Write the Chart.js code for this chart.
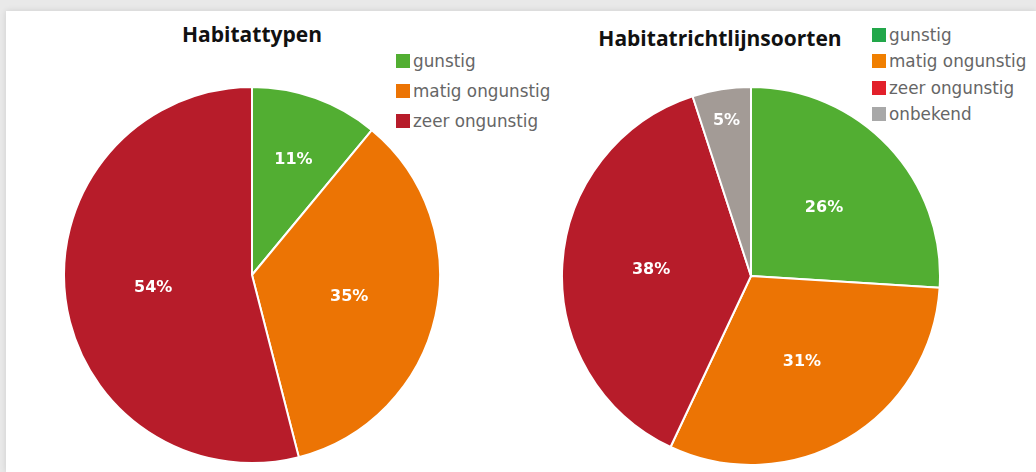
<!DOCTYPE html>
<html>
<head>
<meta charset="utf-8">
<script src="https://cdn.jsdelivr.net/npm/chart.js@4.4.1/dist/chart.umd.min.js"></script>
<style>
    html, body { margin: 0; padding: 0; }
    body { width: 1036px; height: 472px; background: #e9e9e9; position: relative; overflow: hidden; }
    .panel { position: absolute; left: 6px; top: 11px; right: 0; bottom: 0; background: #fff; box-shadow: 0 0 6px rgba(0,0,0,0.12); }
    .pie-box { position: absolute; }
    .title { position: absolute; font-family: "Open Sans", sans-serif; font-weight: 700; font-size: 21px; color: #111; white-space: nowrap; transform: translateX(-50%); }
    .legend { position: absolute; font-family: "DejaVu Sans", Verdana, sans-serif; font-size: 16.8px; color: #666; }
    .legend .row { display: flex; align-items: center; white-space: nowrap; }
    .legend .sw { width: 14px; height: 14px; margin-right: 3px; }
</style>
</head>
<body>
<div class="panel"></div>

<div class="title" id="title1" style="left: 252px; top: 20px;"></div>
<div class="title" id="title2" style="left: 720px; top: 24px;"></div>

<div class="legend" id="legend1" style="left: 396px; top: 46px;"></div>
<div class="legend" id="legend2" style="left: 872px; top: 22px;"></div>

<div class="pie-box" style="left: 63px; top: 86px; width: 378px; height: 378px;"><canvas id="pie1"></canvas></div>
<div class="pie-box" style="left: 561px; top: 86px; width: 380px; height: 380px;"><canvas id="pie2"></canvas></div>

<script>
// --- data ---
const title1 = 'Habitattypen';
const labels1 = ['gunstig', 'matig ongunstig', 'zeer ongunstig'];
const values1 = [11, 35, 54];

const title2 = 'Habitatrichtlijnsoorten';
const labels2 = ['gunstig', 'matig ongunstig', 'zeer ongunstig', 'onbekend'];
const values2 = [26, 31, 38, 5];

// slice colours (both pies use the same palette)
const sliceColors = ['#52ae32', '#ec7404', '#b71c2a', '#a39b96'];
// the legends use slightly different swatches
const legendColors1 = ['#52ae32', '#ec7404', '#b71c2a'];
const legendColors2 = ['#22a74a', '#f07f00', '#e2202a', '#a8a8a8'];

// percentage labels inside the slices
const percentLabels = {
    id: 'percentLabels',
    afterDatasetsDraw(chart) {
        const ctx = chart.ctx;
        const data = chart.data.datasets[0].data;
        const total = data.reduce((a, b) => a + b, 0);
        const meta = chart.getDatasetMeta(0);
        ctx.save();
        ctx.font = 'bold 16px "DejaVu Sans", Verdana, sans-serif';
        ctx.fillStyle = '#ffffff';
        ctx.textAlign = 'center';
        ctx.textBaseline = 'middle';
        meta.data.forEach(function(arc, i) {
            const p = arc.getProps(['x', 'y', 'startAngle', 'endAngle', 'outerRadius']);
            const share = data[i] / total;
            // narrow slices push their label further out
            let frac = 0.53;
            if (share < 0.08) frac = 0.83;
            else if (share < 0.15) frac = 0.65;
            const mid = (p.startAngle + p.endAngle) / 2;
            const r = p.outerRadius * frac;
            ctx.fillText(Math.round(share * 100) + '%', p.x + Math.cos(mid) * r, p.y + Math.sin(mid) * r);
        });
        ctx.restore();
    }
};

function makePie(id, labels, values) {
    return new Chart(document.getElementById(id), {
        type: 'pie',
        data: {
            labels: labels,
            datasets: [{
                data: values,
                backgroundColor: sliceColors.slice(0, values.length),
                borderColor: '#ffffff',
                borderWidth: 2,
                hoverOffset: 0,
                offset: 0
            }]
        },
        options: {
            responsive: true,
            maintainAspectRatio: false,
            animation: false,
            events: [],
            layout: { padding: 0 },
            plugins: {
                legend: { display: false },
                tooltip: { enabled: false }
            }
        },
        plugins: [percentLabels]
    });
}

function makeLegend(id, labels, colors, rowHeight) {
    const box = document.getElementById(id);
    labels.forEach(function(label, i) {
        const row = document.createElement('div');
        row.className = 'row';
        row.style.height = rowHeight + 'px';
        row.innerHTML = '<span class="sw" style="background:' + colors[i] + '"></span><span>' + label + '</span>';
        box.appendChild(row);
    });
}

document.getElementById('title1').textContent = title1;
document.getElementById('title2').textContent = title2;
makeLegend('legend1', labels1, legendColors1, 30);
makeLegend('legend2', labels2, legendColors2, 26.3);
makePie('pie1', labels1, values1);
makePie('pie2', labels2, values2);
</script>
</body>
</html>
